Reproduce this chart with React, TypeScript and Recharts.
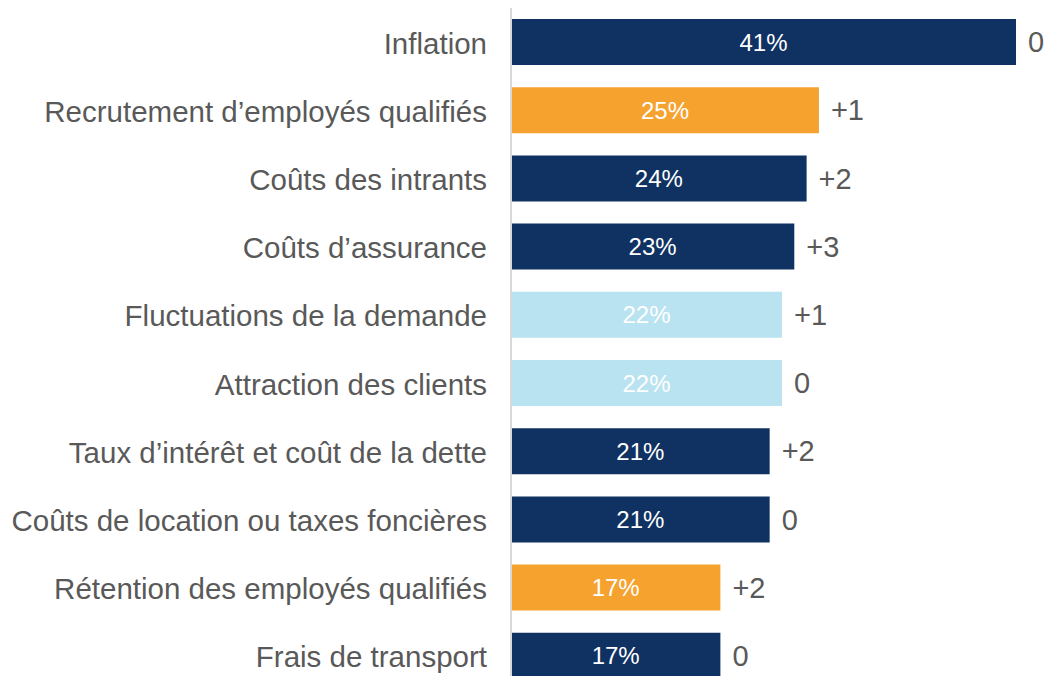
import React from "react";
import { BarChart, Bar, XAxis, YAxis, Cell, LabelList } from "recharts";

const categories = [
  "Inflation",
  "Recrutement d’employés qualifiés",
  "Coûts des intrants",
  "Coûts d’assurance",
  "Fluctuations de la demande",
  "Attraction des clients",
  "Taux d’intérêt et coût de la dette",
  "Coûts de location ou taxes foncières",
  "Rétention des employés qualifiés",
  "Frais de transport",
];
const shares = [41, 25, 24, 23, 22, 22, 21, 21, 17, 17];
const changes = ["0", "+1", "+2", "+3", "+1", "0", "+2", "0", "+2", "0"];
const groups = ["cost", "labour", "cost", "cost", "demand", "demand", "cost", "cost", "labour", "cost"];

const groupColors: Record<string, string> = {
  cost: "#0f3262",
  labour: "#f6a22f",
  demand: "#b9e3f1",
};

const data = categories.map((name, i) => ({
  name,
  share: shares[i],
  change: changes[i],
  group: groups[i],
}));

const FONT = "'Liberation Sans', Arial, sans-serif";

export default function App() {
  return (
    <div
      style={{
        position: "fixed",
        left: 0,
        top: 0,
        width: 1051,
        height: 676,
        overflow: "hidden",
        background: "#fff",
      }}
    >
      <BarChart
        width={1051}
        height={690}
        data={data}
        layout="vertical"
        margin={{ top: 8, right: 35, bottom: 0, left: 0 }}
        barSize={46}
      >
        <XAxis type="number" domain={[0, 41]} hide />
        <YAxis
          type="category"
          dataKey="name"
          width={511}
          tickLine={false}
          tickMargin={18}
          axisLine={{ stroke: "#d9d9d9", strokeWidth: 2 }}
          tick={{ fill: "#595959", fontSize: 29.5, fontFamily: FONT, dy: 1 }}
          interval={0}
        />
        <Bar dataKey="share" isAnimationActive={false}>
          {data.map((d) => (
            <Cell key={d.name} fill={groupColors[d.group]} />
          ))}
          <LabelList
            dataKey="share"
            position="center"
            formatter={(v: any) => `${v}%`}
            fill="#ffffff"
            style={{ fontSize: 24, fontFamily: FONT, fontWeight: 400 }}
          />
          <LabelList
            dataKey="change"
            position="right"
            offset={12}
            fill="#595959"
            style={{ fontSize: 29, fontFamily: FONT, fontWeight: 400 }}
          />
        </Bar>
      </BarChart>
    </div>
  );
}
